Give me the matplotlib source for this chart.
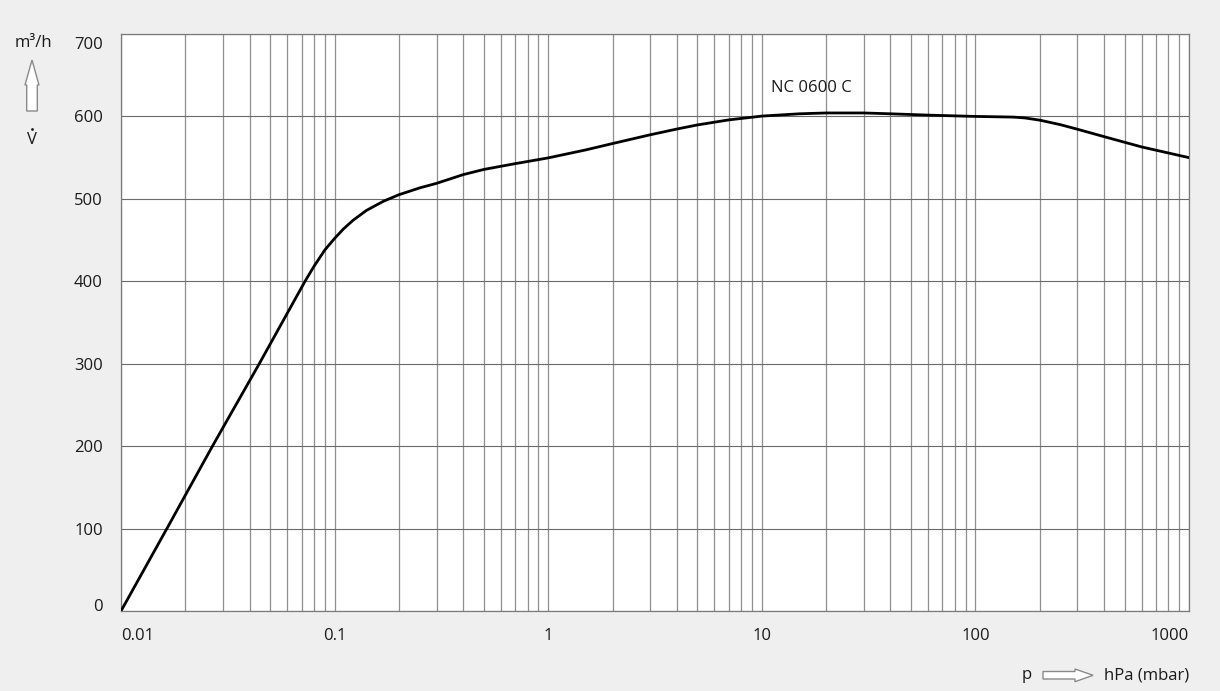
import matplotlib
matplotlib.use("Agg")
import matplotlib.pyplot as plt
from matplotlib.patches import Polygon
from matplotlib.lines import Line2D
from matplotlib.transforms import ScaledTranslation
from matplotlib.ticker import LogLocator, NullFormatter

# pressure in hPa (mbar) and pumping speed in m3/h
pressure = [0.01, 0.0164, 0.0268, 0.0444, 0.0727, 0.08, 0.09, 0.1, 0.11, 0.122,
            0.141, 0.169, 0.2, 0.251, 0.3, 0.4, 0.5, 0.7, 1.0,
            1.5, 2.0, 3.0, 4.0, 5.0, 7.0, 10, 15, 20, 30, 40,
            60, 100, 150, 170, 200, 250, 300, 400, 600, 1000]
flow = [0, 100, 200, 300, 400, 418, 438, 452, 463.5, 474,
        486, 497, 505, 513.4, 518.8, 529.4, 535.7, 542.7, 549.7,
        559.4, 567.1, 577.7, 584.7, 589.7, 595.8, 600.4, 603.2, 604.2, 604.2, 603.2,
        601.6, 600, 599.2, 598.2, 595.5, 590, 584.5, 575.5, 563, 550]

x_ticks = [0.01, 0.1, 1, 10, 100, 1000]
x_tick_labels = ["0.01", "0.1", "1", "10", "100", "1000"]
y_ticks = [0, 100, 200, 300, 400, 500, 600, 700]

W, H = 1220, 691
FONT = ["Open Sans", "DejaVu Sans"]
plt.rcParams["font.family"] = FONT
plt.rcParams["font.size"] = 12
TEXT = "#1a1a1a"

fig = plt.figure(figsize=(W / 100, H / 100), dpi=100, facecolor="#efefef")
ax = fig.add_axes([121 / W, (H - 611) / H, 1068 / W, 577 / H])
ax.set_facecolor("white")

ax.plot(pressure, flow, color="black", lw=2.0, solid_capstyle="round",
        solid_joinstyle="round", zorder=3)

ax.set_xscale("log")
ax.set_xlim(0.01, 1000)
ax.set_ylim(0, 700)
ax.set_xticks(x_ticks)
ax.set_xticklabels(x_tick_labels)
ax.xaxis.set_minor_locator(LogLocator(base=10, subs=range(2, 10), numticks=20))
ax.xaxis.set_minor_formatter(NullFormatter())
ax.set_yticks(y_ticks)
ax.set_yticklabels([str(v) for v in y_ticks])
ax.tick_params(axis="both", which="both", length=0, colors=TEXT, labelsize=12)
ax.tick_params(axis="x", pad=12)
ax.tick_params(axis="y", pad=13)

# keep the end labels inside the plot box like the reference
xl = ax.get_xticklabels()
xl[0].set_horizontalalignment("left")
xl[-1].set_horizontalalignment("right")
yl = ax.get_yticklabels()
yl[0].set_verticalalignment("baseline")
yl[-1].set_verticalalignment("top")
yl[-1].set_transform(yl[-1].get_transform()
                     + ScaledTranslation(0, -3 / 100, fig.dpi_scale_trans))

ax.grid(True, axis="x", which="both", color="#8f8f8f", lw=0.9)
ax.grid(True, axis="y", which="major", color="#6a6a6a", lw=0.8)
for s in ax.spines.values():
    s.set_color("#7a7a7a")
    s.set_linewidth(0.9)

ax.text(11.0, 635, "NC 0600 C", fontsize=12, color=TEXT, va="center", ha="left")


def fx(px):
    return px / W


def fy(py):
    return (H - py) / H


# axis labels with hollow arrows
fig.text(fx(33), fy(43), "m³/h", ha="center", va="center", color=TEXT, fontsize=12)
fig.text(fx(32), fy(144), "V", ha="center", va="baseline", color=TEXT, fontsize=12)
fig.add_artist(Line2D([fx(32.3)], [fy(129)], marker="o", ms=2.0, mew=0,
                      color=TEXT, transform=fig.transFigure))
up = [(32, 60), (39, 85), (37.3, 85), (37.3, 111), (26.7, 111), (26.7, 85), (25, 85)]
fig.patches.append(Polygon([(fx(a), fy(b)) for a, b in up], closed=True,
                           transform=fig.transFigure, facecolor="white",
                           edgecolor="#8a8a8a", lw=1.0))

fig.text(fx(1027), fy(675), "p", ha="center", va="center", color=TEXT, fontsize=12)
fig.text(fx(1104), fy(675), "hPa (mbar)", ha="left", va="center", color=TEXT, fontsize=12)
right = [(1043, 671.5), (1075, 671.5), (1075, 669), (1093, 675.3), (1075, 681.7),
         (1075, 679), (1043, 679)]
fig.patches.append(Polygon([(fx(a), fy(b)) for a, b in right], closed=True,
                           transform=fig.transFigure, facecolor="white",
                           edgecolor="#8a8a8a", lw=1.0))

fig.savefig("out.png", dpi=100, facecolor=fig.get_facecolor())
